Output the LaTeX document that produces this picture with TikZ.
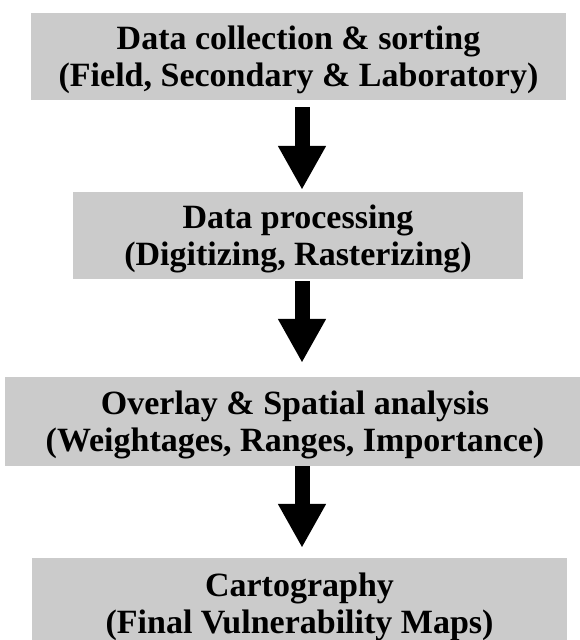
\documentclass[tikz,border=0pt]{standalone}
\usepackage{fontspec}
\setmainfont{Liberation Serif}
\usetikzlibrary{arrows.meta}
\definecolor{boxgray}{RGB}{203,203,203}
\begin{document}
\begin{tikzpicture}[x=1pt, y=-1pt,
    stage/.style={fill=boxgray, minimum height=87pt, inner sep=0pt, align=center,
      text depth=0pt, font=\fontsize{34}{37}\selectfont\bfseries},
    flow/.style={line width=15pt, -{Triangle[length=44pt,width=45pt]}}]
\useasboundingbox (0,0) rectangle (579,640);
\coordinate (ax) at (302,0);

% Collection
\node[stage, minimum width=535pt] (collect) at (298.5,56.5)
{Data collection \& sorting\\(Field, Secondary \& Laboratory)};

% Processing
\node[stage, minimum width=450pt] (process) at (298,235.5)
{Data processing\\(Digitizing, Rasterizing)};

% Overlay
\node[stage, minimum width=580pt, minimum height=89pt] (overlay) at (295,421.5)
{Overlay \& Spatial analysis\\(Weightages, Ranges, Importance)};

% Cartography
\node[stage, minimum width=535pt, minimum height=90pt] (carto) at (299.5,603)
{Cartography\\(Final Vulnerability Maps)};

% arrows
\draw[flow, shorten <=7pt, shorten >=2pt] (collect.south -| ax) -- (process.north -| ax);
\draw[flow, shorten <=2pt, shorten >=14pt] (process.south -| ax) -- (overlay.north -| ax);
\draw[flow, shorten >=10pt] (overlay.south -| ax) -- (carto.north -| ax);
\end{tikzpicture}
\end{document}
